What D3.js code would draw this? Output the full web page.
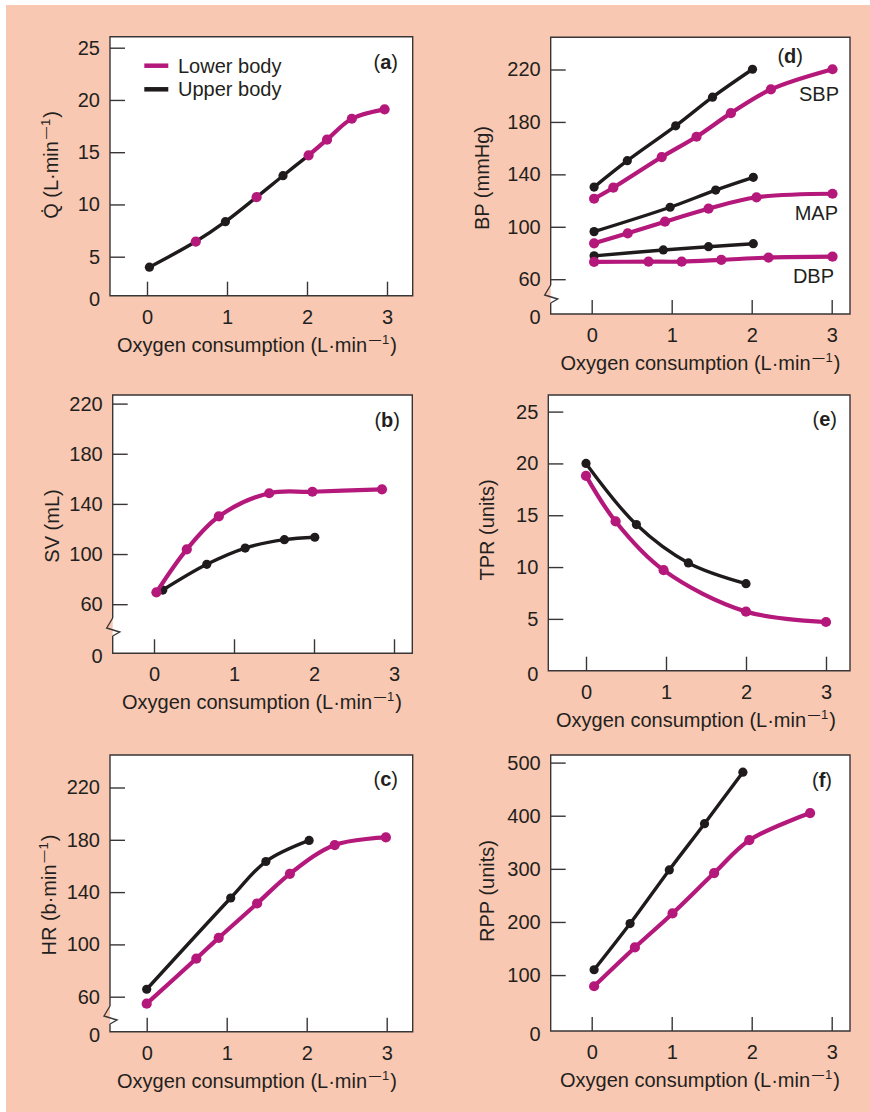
<!DOCTYPE html>
<html><head><meta charset="utf-8">
<script src="https://cdn.jsdelivr.net/npm/d3@7"></script>
<style>
html,body{margin:0;padding:0;background:#fff;}
svg{display:block;font-family:"Liberation Sans",Arial,Helvetica,sans-serif;}
</style></head>
<body>
<script>
// ---------- DATA ----------
const xTickVals = [0, 1, 2, 3];
const xTitle = "Oxygen consumption (L·min";
const seriesNames = ["Lower body", "Upper body"];

// (a) Cardiac output
const qTicks = [5, 10, 15, 20, 25];
const qUpperX = [0.03, 0.98, 1.70];
const qUpperY = [4.0, 8.35, 12.75];
const qLowerX = [0.61, 1.37, 2.02, 2.25, 2.56, 2.97];
const qLowerY = [6.45, 10.7, 14.7, 16.2, 18.2, 19.1];

// (b) Stroke volume
const svTicks = [60, 100, 140, 180, 220];
const svUpperX = [0.11, 0.66, 1.14, 1.63, 2.01];
const svUpperY = [71.3, 91.8, 104.8, 111.5, 113.4];
const svLowerX = [0.03, 0.41, 0.81, 1.44, 1.98, 2.85];
const svLowerY = [69.5, 103.8, 130, 148.5, 149.7, 151.6];

// (c) Heart rate
const hrTicks = [60, 100, 140, 180, 220];
const hrUpperX = [0, 1.05, 1.49, 2.03];
const hrUpperY = [65.7, 135.5, 163.4, 179.5];
const hrLowerX = [0, 0.62, 0.90, 1.38, 1.79, 2.35, 2.99];
const hrLowerY = [54.7, 89.1, 105, 131.3, 154, 176, 181.8];

// (d) Blood pressure
const bpTicks = [60, 100, 140, 180, 220];
const bpLabels = ["SBP", "MAP", "DBP"];
const sbpUpperX = [0.03, 0.445, 1.05, 1.51, 2.01];
const sbpUpperY = [130.3, 150.4, 177, 198.9, 220.2];
const sbpLowerX = [0.03, 0.27, 0.875, 1.31, 1.74, 2.24, 3.01];
const sbpLowerY = [121.4, 129.8, 153.2, 168.7, 186.7, 204.8, 220.2];
const mapUpperX = [0.03, 0.98, 1.55, 2.02];
const mapUpperY = [96.3, 114.9, 128, 137.7];
const mapLowerX = [0.03, 0.45, 0.916, 1.46, 2.06, 3.01];
const mapLowerY = [87.4, 95, 103.9, 113.8, 122.5, 125.2];
const dbpUpperX = [0.03, 0.895, 1.46, 2.02];
const dbpUpperY = [77.8, 82.3, 84.8, 87.1];
const dbpLowerX = [0.03, 0.71, 1.125, 1.62, 2.21, 3.01];
const dbpLowerY = [73.2, 73.4, 73.4, 74.7, 76.5, 77.2];

// (e) Total peripheral resistance
const tprTicks = [5, 10, 15, 20, 25];
const tprUpperX = [0, 0.63, 1.28, 2.0];
const tprUpperY = [20, 14.1, 10.4, 8.4];
const tprLowerX = [0, 0.37, 0.97, 2.0, 3.0];
const tprLowerY = [18.8, 14.4, 9.7, 5.7, 4.7];

// (f) Rate pressure product
const rppTicks = [100, 200, 300, 400, 500];
const rppUpperX = [0.03, 0.48, 0.97, 1.41, 1.89];
const rppUpperY = [110, 197, 298, 385, 482];
const rppLowerX = [0.03, 0.54, 1.01, 1.53, 1.97, 2.73];
const rppLowerY = [79, 152, 216, 292, 354, 405];

// ---------- STYLE ----------
const W = 870, H = 1112;
const MAG = "#B4187A", BLK = "#1F1B1C", TXT = "#231F20";
const BG = "#F9C8B2";
const FS = 20;

const svg = d3.select("body").append("svg").attr("width", W).attr("height", H);
svg.append("rect").attr("width", W).attr("height", H).attr("fill", "#fff");
svg.append("rect").attr("x", 6).attr("y", 5).attr("width", W - 6).attr("height", H - 5).attr("fill", BG);

const zip = (xs, ys) => xs.map((x, i) => [x, ys[i]]);

// superscript "−1" appended to a text element
function addSup(txt) {
  txt.append("tspan").attr("dx", 2).attr("dy", -8).style("font-size", "12px").text("—");
  txt.append("tspan").attr("dx", 1).style("font-size", "13px").text("1");
  txt.append("tspan").attr("dx", 1).attr("dy", 8).text(")");
}

function panel(cfg) {
  const [l, t, r, b] = cfg.box;
  const x = d3.scaleLinear().domain([0, 3]).range([cfg.x0, cfg.x0 + 240]);
  const y = d3.scaleLinear().domain([cfg.ya[0], cfg.ya[2]]).range([cfg.ya[1], cfg.ya[3]]);
  const g = svg.append("g");
  g.append("rect").attr("x", l).attr("y", t).attr("width", r - l).attr("height", b - t).attr("fill", "#fff");

  let p;
  if (cfg.brk) {
    const yb = cfg.brk;
    p = `M${l},${yb - 9}L${l},${t}L${r},${t}L${r},${b}L${l},${b}L${l},${yb + 9}` +
        `M${l},${yb - 9}L${l - 6},${yb + 1}L${l + 7},${yb + 5}L${l},${yb + 9}`;
  } else {
    p = `M${l},${t}L${r},${t}L${r},${b}L${l},${b}Z`;
  }
  g.append("path").attr("d", p).attr("fill", "none").attr("stroke", "#3a3536").attr("stroke-width", 1.4);

  // y axis
  const yAx = g.append("g").attr("transform", `translate(${l},0)`)
    .call(d3.axisLeft(y).tickValues(cfg.yTicks).tickSize(-15).tickPadding(10).tickFormat(d3.format("d")));
  yAx.select(".domain").remove();
  yAx.selectAll("line").attr("stroke", "#3a3536").attr("stroke-width", 1.4);
  yAx.selectAll("text").attr("fill", TXT).style("font-size", FS + "px").attr("font-family", null);
  g.append("text").attr("x", l - 10).attr("y", b + 3).attr("dy", "0.35em").attr("text-anchor", "end")
    .attr("fill", TXT).style("font-size", FS + "px").text("0");

  // x axis
  const xAx = g.append("g").attr("transform", `translate(0,${b})`)
    .call(d3.axisBottom(x).tickValues(xTickVals).tickSize(-14).tickFormat(d3.format("d")));
  xAx.select(".domain").remove();
  xAx.selectAll("line").attr("stroke", "#3a3536").attr("stroke-width", 1.4);
  xAx.selectAll("text").attr("fill", TXT).style("font-size", FS + "px").attr("font-family", null)
    .attr("y", 28).attr("dy", 0);

  // x title
  const xt = g.append("text").attr("x", cfg.xtx).attr("y", b + 56).attr("text-anchor", "middle")
    .attr("fill", TXT).style("font-size", FS + "px");
  xt.append("tspan").text(xTitle);
  addSup(xt);

  // y title
  const yt = g.append("text").attr("transform", `translate(${cfg.ytx},${cfg.yty}) rotate(-90)`)
    .attr("text-anchor", "middle").attr("dy", "0.35em").attr("fill", TXT).style("font-size", FS + "px");
  yt.append("tspan").text(cfg.ytitle);
  if (cfg.ysup) addSup(yt);

  // panel label
  const pl = g.append("text").attr("x", cfg.lab[0]).attr("y", cfg.lab[1]).attr("dy", "0.35em")
    .attr("text-anchor", "end").attr("fill", TXT).style("font-size", FS + "px");
  pl.append("tspan").text("(");
  pl.append("tspan").attr("font-weight", "bold").text(cfg.letter);
  pl.append("tspan").text(")");

  const line = d3.line().x(d => x(d[0])).y(d => y(d[1])).curve(d3.curveCatmullRom.alpha(0.5));

  cfg.series.forEach(s => {
    const col = s.upper ? BLK : MAG;
    const sw = s.upper ? 3.4 : 4.2;
    const rr = s.upper ? 4.6 : 5.1;
    const lpts = s.linePts || s.pts;
    g.append("path").datum(lpts).attr("d", line).attr("fill", "none")
      .attr("stroke", col).attr("stroke-width", sw).attr("stroke-linecap", "round");
    g.append("g").selectAll("circle").data(s.pts).join("circle")
      .attr("cx", d => x(d[0])).attr("cy", d => y(d[1])).attr("r", rr).attr("fill", col);
  });

  if (cfg.after) cfg.after(g, x, y);
}

// (a) combined curve: black up to 2.02, magenta beyond
const qUp = zip(qUpperX, qUpperY), qLo = zip(qLowerX, qLowerY);
const joinX = 2.02;
const qBlackLine = qUp.concat(qLo.filter(d => d[0] <= joinX)).sort((a, b) => a[0] - b[0]);
const qMagLine = qLo.filter(d => d[0] >= joinX);

panel({
  box: [110, 36.7, 412.7, 295.7], x0: 147, ya: [5, 256.7, 25, 47.7], yTicks: qTicks,
  xtx: 257, ytx: 51, yty: 165, letter: "a", lab: [398, 62],
  ytitle: "Q\u0307 (L·min", ysup: true,
  series: [
    {upper: true, pts: qUp, linePts: qBlackLine},
    {upper: false, pts: qLo, linePts: qMagLine}
  ],
  after: (g) => {
    const items = [{c: MAG, y: 65.7}, {c: BLK, y: 89.3}];
    items.forEach((it, i) => {
      g.append("line").attr("x1", 144.3).attr("x2", 168.3).attr("y1", it.y).attr("y2", it.y)
        .attr("stroke", it.c).attr("stroke-width", 4.5);
      g.append("text").attr("x", 178).attr("y", it.y).attr("dy", "0.35em").attr("fill", TXT)
        .style("font-size", FS + "px").text(seriesNames[i]);
    });
  }
});

panel({
  box: [112.7, 395, 412.3, 653.3], x0: 154, ya: [60, 604.2, 220, 403.6], yTicks: svTicks, brk: 627,
  xtx: 262, ytx: 52, yty: 526, letter: "b", lab: [400, 420],
  ytitle: "SV (mL)",
  series: [
    {upper: true, pts: zip(svUpperX, svUpperY)},
    {upper: false, pts: zip(svLowerX, svLowerY)}
  ]
});

panel({
  box: [110, 755, 412.7, 1031.7], x0: 146.7, ya: [60, 996.7, 220, 787.5], yTicks: hrTicks, brk: 1015,
  xtx: 257, ytx: 48.5, yty: 895, letter: "c", lab: [398, 779],
  ytitle: "HR (b·min", ysup: true,
  series: [
    {upper: true, pts: zip(hrUpperX, hrUpperY)},
    {upper: false, pts: zip(hrLowerX, hrLowerY)}
  ]
});

panel({
  box: [550.7, 37.3, 850, 314], x0: 591.7, ya: [60, 279.2, 220, 69.5], yTicks: bpTicks, brk: 294,
  xtx: 700.5, ytx: 482, yty: 178, letter: "d", lab: [803, 56],
  ytitle: "BP (mmHg)",
  series: [
    {upper: true, pts: zip(sbpUpperX, sbpUpperY)},
    {upper: true, pts: zip(mapUpperX, mapUpperY)},
    {upper: true, pts: zip(dbpUpperX, dbpUpperY)},
    {upper: false, pts: zip(sbpLowerX, sbpLowerY)},
    {upper: false, pts: zip(mapLowerX, mapLowerY)},
    {upper: false, pts: zip(dbpLowerX, dbpLowerY)}
  ],
  after: (g) => {
    const pos = [[839, 94], [838, 213], [834, 276]];
    bpLabels.forEach((s, i) => {
      g.append("text").attr("x", pos[i][0]).attr("y", pos[i][1]).attr("dy", "0.35em")
        .attr("text-anchor", "end").attr("fill", TXT).style("font-size", FS + "px").text(s);
    });
  }
});

panel({
  box: [548.3, 395, 850, 670.7], x0: 586, ya: [0, 670.7, 25, 411.6], yTicks: tprTicks,
  xtx: 696, ytx: 487, yty: 530, letter: "e", lab: [837, 419],
  ytitle: "TPR (units)",
  series: [
    {upper: true, pts: zip(tprUpperX, tprUpperY)},
    {upper: false, pts: zip(tprLowerX, tprLowerY)}
  ]
});

panel({
  box: [550.7, 755, 850, 1031], x0: 591.7, ya: [0, 1028.2, 500, 762.6], yTicks: rppTicks,
  xtx: 700, ytx: 487, yty: 891, letter: "f", lab: [832, 780],
  ytitle: "RPP (units)",
  series: [
    {upper: true, pts: zip(rppUpperX, rppUpperY)},
    {upper: false, pts: zip(rppLowerX, rppLowerY)}
  ]
});
</script>
</body></html>
